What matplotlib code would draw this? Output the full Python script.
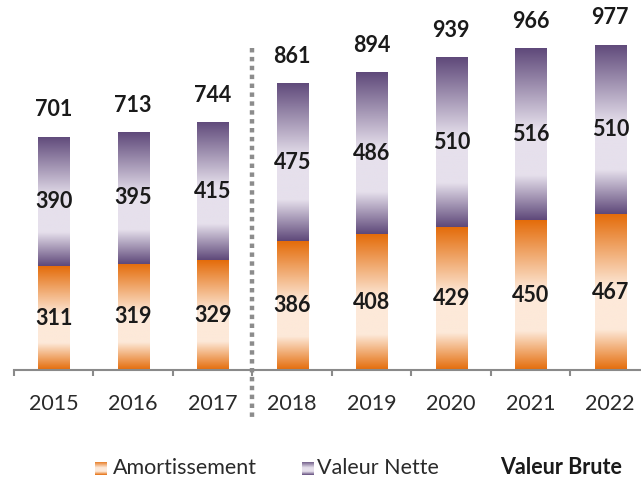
import numpy as np
import matplotlib
matplotlib.use('Agg')
import matplotlib.pyplot as plt
from matplotlib.colors import to_rgb

years = ['2015', '2016', '2017', '2018', '2019', '2020', '2021', '2022']
amortissement = [311, 319, 329, 386, 408, 429, 450, 467]
valeur_nette = [390, 395, 415, 475, 486, 510, 516, 510]
valeur_brute = [701, 713, 744, 861, 894, 939, 966, 977]
series_labels = ['Amortissement', 'Valeur Nette', 'Valeur Brute']

ORANGE_DARK, ORANGE_LIGHT = '#E46C0A', '#FDE9D9'
PURPLE_DARK, PURPLE_LIGHT = '#5F497A', '#E6E0EC'
FONT = ['Lato', 'DejaVu Sans']
TXT = '#1a1a1a'
VAL_FS = 15.5
TICK_FS = 15.5
LEG_FS = 15.5


def gradient(dark, light, n=256):
    stops = [(0.0, dark), (0.47, light), (0.74, light), (1.0, dark)]
    pos = np.linspace(0, 1, n)
    arr = np.zeros((n, 1, 3))
    for c in range(3):
        arr[:, 0, c] = np.interp(pos, [s[0] for s in stops],
                                 [to_rgb(s[1])[c] for s in stops])
    return arr


g_orange = gradient(ORANGE_DARK, ORANGE_LIGHT)
g_purple = gradient(PURPLE_DARK, PURPLE_LIGHT)

W, H = 641, 479
fig = plt.figure(figsize=(W / 100, H / 100), dpi=100)
ax = fig.add_axes([14 / W, 109 / H, 636 / W, 350 / H])

x = np.arange(len(years))
bw = 0.39
b1 = ax.bar(x, amortissement, bw, color='none', edgecolor='none')
b2 = ax.bar(x, valeur_nette, bw, bottom=amortissement, color='none', edgecolor='none')
for bars, grad in ((b1, g_orange), (b2, g_purple)):
    for bar in bars:
        x0, y0 = bar.get_x(), bar.get_y()
        im = ax.imshow(grad, extent=(x0, x0 + bar.get_width(), y0, y0 + bar.get_height()),
                       aspect='auto', origin='upper', zorder=2, interpolation='bilinear')
        im.set_clip_path(bar)

for xi, a, v, t in zip(x, amortissement, valeur_nette, valeur_brute):
    ax.text(xi, a / 2, str(a), ha='center', va='center', fontsize=VAL_FS,
            fontweight='bold', family=FONT, color=TXT, zorder=3)
    ax.text(xi, a + v / 2, str(v), ha='center', va='center', fontsize=VAL_FS,
            fontweight='bold', family=FONT, color=TXT, zorder=3)
    ax.annotate(str(t), (xi, t), xytext=(0, 19.5), textcoords='offset points',
                ha='center', va='center', fontsize=VAL_FS, fontweight='bold',
                family=FONT, color=TXT)

ax.set_xlim(-0.5, len(years) - 0.5)
ax.set_ylim(0, 1051)
for s in ('left', 'top', 'right'):
    ax.spines[s].set_visible(False)
ax.spines['bottom'].set_color('#8a8a8a')
ax.spines['bottom'].set_linewidth(1.5)
ax.set_yticks([])
ax.set_xticks(x, years)
ax.set_xticks(np.arange(-0.5, len(years), 1), minor=True)
ax.tick_params(axis='x', which='major', length=0, pad=17, labelsize=TICK_FS, labelcolor='#2a2a2a')
ax.tick_params(axis='x', which='minor', length=4.5, width=1.5, color='#8a8a8a')
for lab in ax.get_xticklabels():
    lab.set_family(FONT)

# separator between 2017 and 2018
ax.plot([2.5, 2.5], [0.92, -0.134], transform=ax.get_xaxis_transform(),
        color='#8c8c8c', lw=3.2, linestyle=(0, (1, 1)), clip_on=False,
        dash_capstyle='butt', zorder=1)

# legend
def legend_marker(px_left, px_top, grad):
    lax = fig.add_axes([px_left / W, 1 - (px_top + 13) / H, 12 / W, 13 / H])
    lax.imshow(grad, aspect='auto', interpolation='bilinear')
    lax.axis('off')

legend_marker(95, 462, g_orange)
legend_marker(302, 462, g_purple)
ly = 1 - 468 / H
fig.text(113 / W, ly, series_labels[0], ha='left', va='center', fontsize=LEG_FS,
         family=FONT, color='#2a2a2a')
fig.text(317 / W, ly, series_labels[1], ha='left', va='center', fontsize=LEG_FS,
         family=FONT, color='#2a2a2a')
fig.text(500 / W, ly, series_labels[2], ha='left', va='center', fontsize=LEG_FS,
         fontweight='bold', family=FONT, color=TXT)

fig.savefig('out.png', dpi=100)
